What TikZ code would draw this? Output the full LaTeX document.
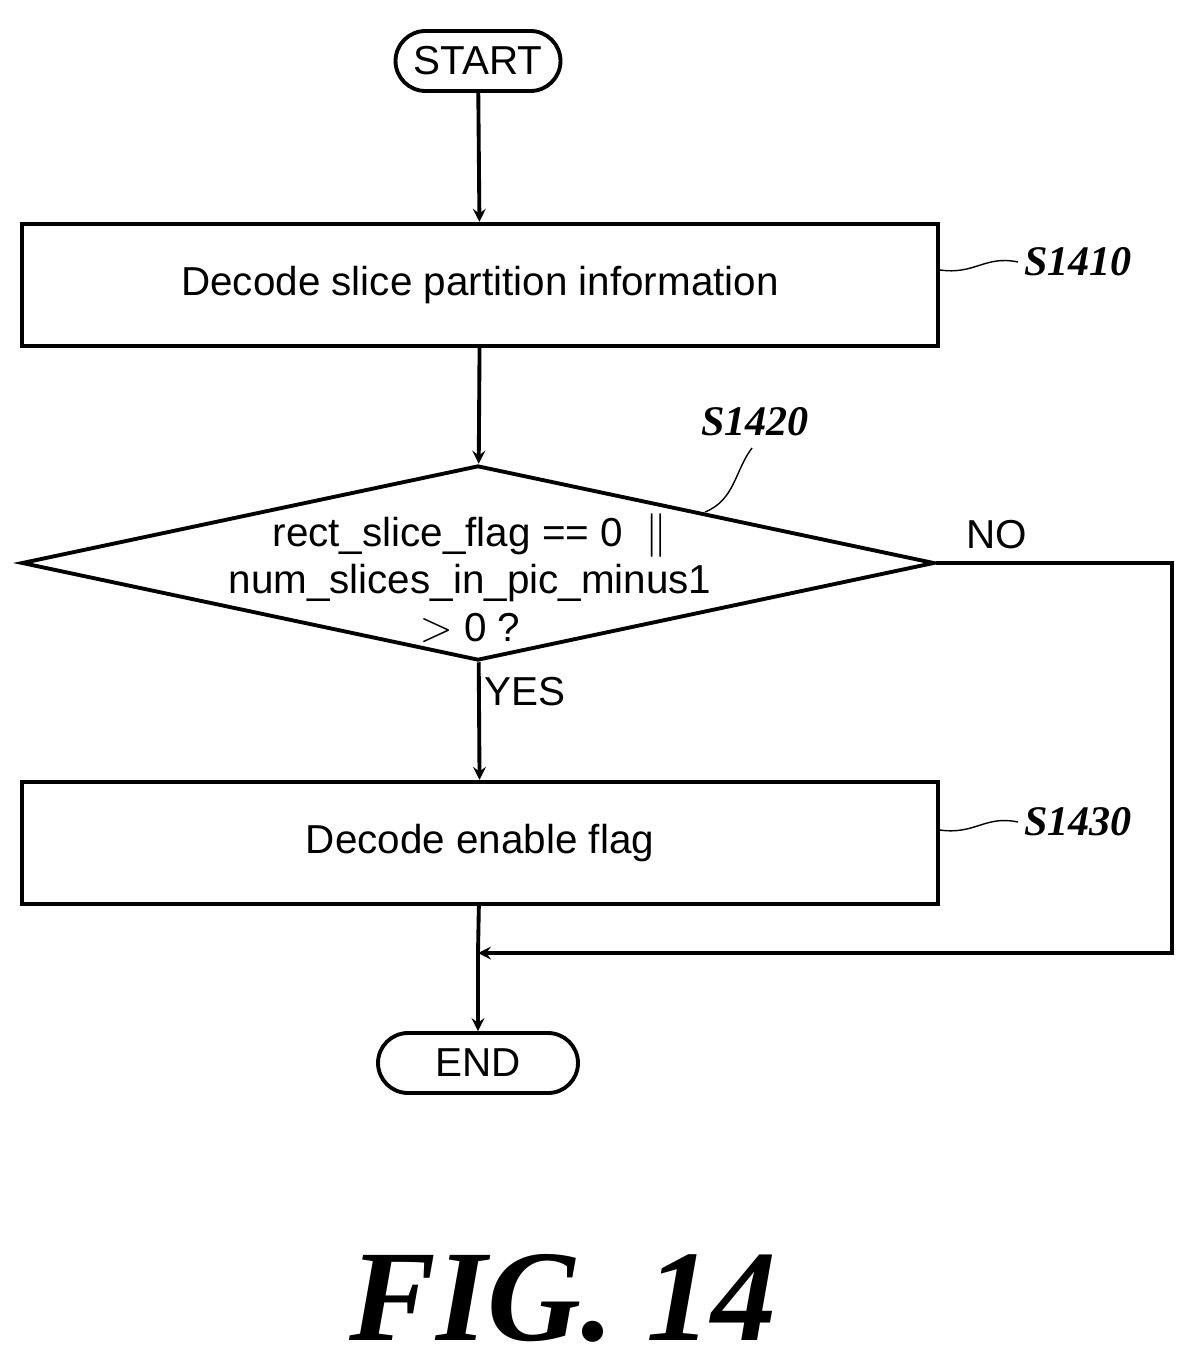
\documentclass[tikz,border=0pt]{standalone}
\usepackage{fontspec}
\setmainfont{Liberation Sans}
\newfontfamily\labfont{Liberation Serif}
\usetikzlibrary{shapes.geometric,positioning}
\tikzset{
  box/.style={draw,line width=2.2pt,minimum width=18.32cm,minimum height=2.45cm,font=\fontsize{23}{27}\selectfont},
  term/.style={draw,line width=2.2pt,rounded corners=0.6cm,minimum width=3.3cm,minimum height=1.2cm,font=\fontsize{23}{27}\selectfont},
  steplabel/.style={font=\labfont\fontsize{24}{28}\selectfont\bfseries\itshape},
  flow/.style={line width=2.2pt,->,>=stealth}
}
\begin{document}
\begin{tikzpicture}[x=0.02cm,y=-0.02cm]
\useasboundingbox (0,0) rectangle (1197,1361);
\node[term] (start) at (478,61) {START};
\node[box] (dec1) at (480,285) {Decode slice partition information};
\node[draw,line width=2.2pt,diamond,minimum width=18.26cm,minimum height=3.9cm,inner sep=0pt] (cond) at (478,563) {};
\node[align=center,font=\fontsize{23}{27}\selectfont,inner sep=0pt] (condtxt) at (470,578) {rect\_slice\_flag == 0 \ $\|$\\num\_slices\_in\_pic\_minus1\\$>$ 0 ?};
\node[box] (dec2) at (480,843) {Decode enable flag};
\node[term,minimum width=4cm] (end) at (478,1063) {END};
\coordinate (join) at (478,953);
\coordinate (c1) at (1172,563);
\coordinate (c2) at (1172,953);
\node[steplabel] (s1410) at (1078,262) {S1410};
\node[steplabel] (s1420) at (755,422) {S1420};
\node[steplabel] (s1430) at (1078,822) {S1430};
\node[font=\fontsize{23}{27}\selectfont] (no) at (997,535) {NO};
\node[font=\fontsize{23}{27}\selectfont] (yes) at (525,692) {YES};
\draw[flow] (start) -- (dec1);
\draw[flow] (dec1) -- (cond);
\draw[flow] (cond) -- (dec2);
\draw[line width=2.2pt] (dec2) -- (join);
\draw[flow] (join) -- (end);
\draw[flow] (cond.east) -- (c1) -- (c2) -- (join);
\draw[line width=0.8pt] (dec1.east |- 0,270) .. controls (975,275) and (985,255) .. (s1410.west);
\draw[line width=0.8pt] (dec2.east |- 0,830) .. controls (975,835) and (985,815) .. (s1430.west);
\draw[line width=0.8pt] (705,512) .. controls (735,500) and (735,470) .. (752,448);
\node[font=\labfont\fontsize{74}{80}\selectfont\bfseries\itshape] (fig) at (563,1298) {FIG. 14};
\end{tikzpicture}
\end{document}
